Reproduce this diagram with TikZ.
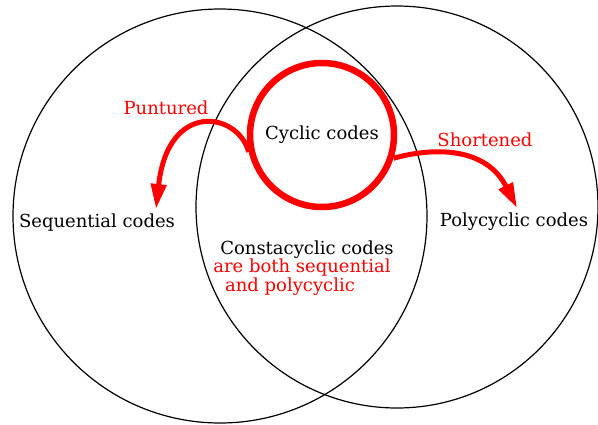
\documentclass[tikz,border=0pt]{standalone}
\usepackage{fontspec}
\setmainfont{DejaVu Serif}
\usetikzlibrary{arrows.meta}

\tikzset{
  codeset/.style={draw=black, line width=1.2pt},
  lbl/.style={anchor=base, inner sep=0pt, font=\fontsize{18}{18}\selectfont},
  note/.style={lbl, text=red},
  move/.style={draw=red, line width=5pt, -{Triangle[length=25pt,width=15pt]}}
}

\begin{document}
\begin{tikzpicture}[x=1pt,y=-1pt]
\useasboundingbox (0,0) rectangle (598,424);

% the two big sets
\draw[codeset] (220,216) circle[radius=207pt];
\draw[codeset] (397,207) circle[radius=201pt];

% cyclic codes
\node[circle, draw=red, line width=6.5pt, minimum size=144pt, inner sep=0pt,
      font=\fontsize{18}{18}\selectfont] (cyc) at (322,135) {Cyclic codes};

\node[lbl] (seq) at (97,227) {Sequential codes};
\node[lbl] (poly) at (514,226) {Polycyclic codes};
\node[lbl] (consta) at (307,254) {Constacyclic codes};
\node[note] (both) at (302,272) {are both sequential};
\node[note] (and) at (290,291) {and polycyclic};
\node[note] (punt) at (166,114) {Puntured};
\node[note] (short) at (485,146) {Shortened};

\coordinate (punttip) at (156,209);
\coordinate (shorttip) at (517,208);

\draw[move] (cyc.193) .. controls (238,112) and (168,100) .. (punttip);
\draw[move] (cyc.342) .. controls (430,148) and (485,145) .. (shorttip);

\end{tikzpicture}
\end{document}
